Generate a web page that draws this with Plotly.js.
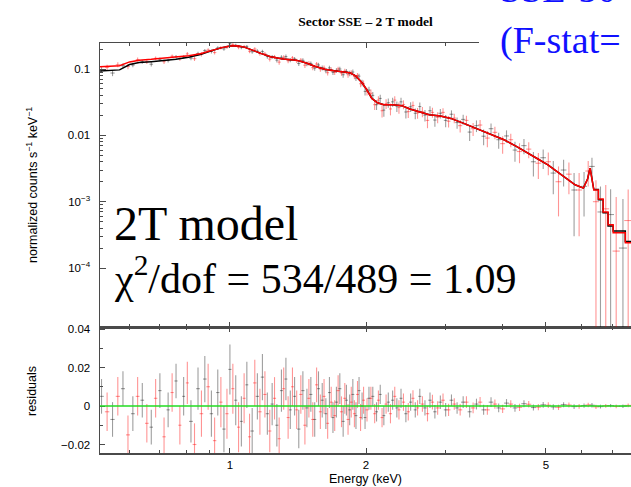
<!DOCTYPE html>
<html><head><meta charset="utf-8">
<script src="https://cdn.plot.ly/plotly-3.0.1.min.js"></script>
<style>html,body{margin:0;padding:0;background:#fff;}#chart{width:631px;height:487px;}</style>
</head><body><div id="chart"></div>
<script>
// ---------- data: black spectrum ----------
const blackE = [0.52,0.55,0.58,0.61,0.64,0.67,0.70,0.73,0.76,0.79,0.82,0.85,0.88,0.91,0.94,0.97,1.00,1.03,1.06,1.09,1.12,1.15,1.18,1.21,1.24,1.27,1.30,1.33,1.36,1.39,1.42,1.45,1.48,1.51,1.54,1.57,1.60,1.63,1.66,1.69,1.72,1.75,1.78,1.81,1.84,1.87,1.90,1.93,1.96,1.99,
2.03,2.07,2.11,2.15,2.19,2.24,2.29,2.34,2.39,2.45,2.51,2.57,2.63,2.70,2.77,2.84,2.92,3.00,3.09,3.18,3.28,3.39,3.51,3.64,3.78,3.93,4.09,4.27,4.47,4.69,4.93,5.19,5.47,5.77,6.07,6.32,6.60,6.95,7.40];
const blackHalfWidth = [0.006,0.006,0.006,0.006,0.006,0.006,0.006,0.006,0.006,0.006,0.008,0.008,0.008,0.008,0.008,0.008,0.008,0.008,0.008,0.008,0.010,0.010,0.010,0.010,0.010,0.010,0.010,0.010,0.010,0.010,0.012,0.012,0.012,0.012,0.012,0.012,0.012,0.012,0.012,0.012,0.014,0.014,0.014,0.014,0.014,0.014,0.014,0.014,0.014,0.014,
0.016,0.016,0.016,0.016,0.016,0.018,0.018,0.018,0.018,0.02,0.02,0.02,0.02,0.024,0.024,0.024,0.028,0.028,0.03,0.03,0.035,0.035,0.04,0.04,0.045,0.045,0.05,0.05,0.06,0.06,0.07,0.07,0.08,0.08,0.09,0.09,0.10,0.12,0.15];
const blackData = [0.098,0.087,0.112,0.115,0.129,0.118,0.140,0.134,0.153,0.151,0.146,0.171,0.189,0.184,0.208,0.201,0.241,0.228,0.211,0.219,0.182,0.186,0.183,0.154,0.152,0.136,0.150,0.154,0.136,0.142,0.121,0.135,0.120,0.121,0.103,0.115,0.104,0.094,0.104,0.089,0.095,0.100,0.082,0.092,0.086,0.090,0.073,0.078,0.062,0.046,
0.048,0.040,0.029,0.036,0.024,0.031,0.032,0.0275,0.032,0.0225,0.027,0.0215,0.0272,0.0202,0.0235,0.017,0.0215,0.0168,0.0208,0.0156,0.0174,0.0112,0.0140,0.0097,0.0126,0.0086,0.0098,0.0060,0.0070,0.0040,0.0046,0.0027,0.0030,0.0015,0.0017,0.0034,0.0007,0.00064,0.00020];
const blackErr = [0.009,0.009,0.009,0.009,0.009,0.009,0.009,0.009,0.009,0.010,0.011,0.011,0.012,0.012,0.012,0.012,0.013,0.013,0.013,0.012,0.012,0.012,0.012,0.011,0.011,0.011,0.011,0.011,0.010,0.010,0.010,0.010,0.010,0.009,0.009,0.009,0.009,0.008,0.008,0.008,0.008,0.008,0.008,0.008,0.008,0.008,0.007,0.007,0.007,0.006,
0.006,0.005,0.005,0.005,0.005,0.005,0.005,0.005,0.005,0.0045,0.0045,0.004,0.004,0.004,0.004,0.0035,0.0035,0.0035,0.003,0.003,0.003,0.003,0.0028,0.0026,0.0025,0.0023,0.0021,0.002,0.0018,0.0016,0.0015,0.0014,0.0013,0.0012,0.0011,0.0012,0.0010,0.0009,0.0009];
const blackResid = [0.005,-0.007,0.009,-0.004,0.003,-0.011,0.008,-0.002,0.013,0.005,-0.008,0.009,0.014,-0.004,0.007,-0.012,0.019,0.003,-0.008,0.011,-0.013,0.005,0.015,-0.004,0.001,-0.010,0.008,0.014,-0.002,0.005,-0.012,0.008,-0.001,0.006,-0.007,0.009,0.003,-0.004,0.007,-0.006,0.002,0.009,-0.008,0.003,-0.002,0.006,-0.005,0.008,0.000,-0.006,
0.004,0.005,-0.003,0.006,-0.005,0.002,0.003,-0.001,0.004,-0.004,0.002,-0.002,0.005,-0.001,0.003,-0.003,0.002,-0.002,0.003,-0.001,0.002,-0.003,0.001,-0.002,0.002,-0.001,0.0015,-0.001,0.0012,-0.0008,0.0006,-0.0005,0.0007,-0.0003,0.0002,0.0004,-0.0003,0.0002,-0.0001];

// ---------- data: red spectrum ----------
const redE = [0.535,0.565,0.595,0.625,0.655,0.685,0.715,0.745,0.775,0.805,0.835,0.865,0.895,0.925,0.955,0.985,1.015,1.045,1.075,1.105,1.135,1.165,1.195,1.225,1.255,1.285,1.315,1.345,1.375,1.405,1.435,1.465,1.495,1.525,1.555,1.585,1.615,1.645,1.675,1.705,1.735,1.765,1.795,1.825,1.855,1.885,1.915,1.945,1.975,
2.01,2.05,2.09,2.13,2.17,2.215,2.265,2.315,2.365,2.42,2.48,2.54,2.60,2.665,2.735,2.805,2.88,2.96,3.045,3.135,3.23,3.335,3.45,3.575,3.71,3.855,4.01,4.18,4.37,4.58,4.81,5.06,5.33,5.62,5.92,6.20,6.45,6.78,7.15,7.60];
const redHalfWidth = [0.006,0.006,0.006,0.006,0.006,0.006,0.006,0.006,0.006,0.006,0.008,0.008,0.008,0.008,0.008,0.008,0.008,0.008,0.008,0.008,0.010,0.010,0.010,0.010,0.010,0.010,0.010,0.010,0.010,0.010,0.012,0.012,0.012,0.012,0.012,0.012,0.012,0.012,0.012,0.012,0.014,0.014,0.014,0.014,0.014,0.014,0.014,0.014,0.014,
0.016,0.016,0.016,0.016,0.016,0.018,0.018,0.018,0.018,0.02,0.02,0.02,0.02,0.024,0.024,0.024,0.028,0.028,0.03,0.03,0.035,0.035,0.04,0.04,0.045,0.045,0.05,0.05,0.06,0.06,0.07,0.07,0.08,0.08,0.09,0.09,0.10,0.12,0.13,0.15];
const redData = [0.106,0.116,0.109,0.139,0.129,0.145,0.129,0.156,0.143,0.169,0.143,0.167,0.193,0.177,0.209,0.214,0.233,0.211,0.218,0.185,0.200,0.171,0.169,0.141,0.152,0.127,0.150,0.133,0.147,0.133,0.136,0.114,0.122,0.105,0.119,0.100,0.104,0.088,0.098,0.089,0.100,0.087,0.093,0.082,0.088,0.077,0.080,0.060,0.060,
0.046,0.043,0.029,0.034,0.0235,0.030,0.025,0.034,0.0262,0.0292,0.0228,0.0282,0.0218,0.0227,0.0168,0.0222,0.0187,0.0222,0.0163,0.0182,0.0140,0.0168,0.0126,0.0143,0.0091,0.0111,0.0075,0.0086,0.0057,0.0062,0.0038,0.0040,0.0020,0.0026,0.0015,0.0029,0.0010,0.00078,0.00018,0.00052];
const redErr = [0.010,0.010,0.010,0.010,0.010,0.010,0.010,0.010,0.010,0.011,0.011,0.012,0.012,0.012,0.013,0.013,0.013,0.013,0.013,0.012,0.012,0.012,0.012,0.011,0.011,0.011,0.011,0.011,0.010,0.010,0.010,0.010,0.010,0.009,0.009,0.009,0.009,0.008,0.008,0.008,0.008,0.008,0.008,0.008,0.008,0.007,0.007,0.007,0.007,
0.006,0.006,0.005,0.005,0.005,0.005,0.005,0.005,0.005,0.0045,0.0045,0.0042,0.004,0.004,0.004,0.0038,0.0035,0.0035,0.0032,0.003,0.003,0.003,0.0028,0.0027,0.0025,0.0024,0.0022,0.002,0.0019,0.0017,0.0016,0.0015,0.0014,0.0013,0.0012,0.0012,0.0011,0.0010,0.0010,0.0010];
const redResid = [-0.003,0.005,-0.015,0.005,-0.009,0.004,-0.016,0.007,-0.010,0.012,-0.020,-0.004,0.010,-0.018,0.002,-0.004,0.009,-0.011,0.004,-0.016,0.012,-0.003,0.006,-0.013,0.004,-0.017,0.009,-0.006,0.010,-0.002,0.006,-0.010,0.004,-0.007,0.011,-0.003,0.005,-0.009,0.002,-0.005,0.008,-0.003,0.004,-0.007,0.002,-0.004,0.006,-0.006,0.003,
-0.002,0.004,-0.004,0.003,-0.006,0.001,-0.004,0.005,-0.002,0.002,-0.003,0.004,-0.001,0.001,-0.004,0.002,-0.001,0.003,-0.002,0.001,-0.002,0.002,-0.001,0.002,-0.002,0.001,-0.0015,0.001,-0.0007,0.0009,-0.0006,0.0004,-0.0007,0.0005,-0.0002,0.0005,-0.0004,0.0001,-0.0002,0.0003];

// ---------- folded models ----------
const modelE = [0.515,0.54,0.57,0.60,0.63,0.67,0.71,0.76,0.81,0.86,0.91,0.96,1.00,1.04,1.08,1.12,1.17,1.23,1.31,1.40,1.47,1.54,1.62,1.70,1.78,1.84,1.90,1.96,2.01,2.06,2.12,2.19,2.29,2.40,2.50,2.62,2.76,2.92,3.08,3.30,3.55,3.80,4.05,4.30,4.55,4.80,5.05,5.30,5.55,5.80,
6.05,6.18,6.26,6.33,6.38,6.53,6.53,6.69,6.69,6.86,6.86,7.04,7.04,7.49,7.49,7.75];
const modelBlack = [0.093,0.094,0.097,0.117,0.125,0.129,0.133,0.140,0.150,0.165,0.188,0.210,0.222,0.224,0.212,0.195,0.172,0.153,0.141,0.136,0.124,0.110,0.099,0.094,0.090,0.088,0.078,0.062,0.048,0.036,0.031,0.029,0.029,0.028,0.025,0.0225,0.0205,0.0195,0.0180,0.0150,0.0122,0.0100,0.0085,0.0068,0.0055,0.0044,0.0036,0.0028,0.0022,0.0018,
0.0016,0.0022,0.0032,0.0020,0.00152,0.00152,0.00107,0.00107,0.00068,0.00068,0.00043,0.00043,0.00036,0.00036,0.00025,0.00025];
const modelRed = [0.108,0.109,0.112,0.128,0.136,0.140,0.145,0.150,0.158,0.170,0.190,0.210,0.222,0.224,0.212,0.195,0.172,0.153,0.141,0.136,0.124,0.110,0.099,0.094,0.090,0.088,0.078,0.062,0.048,0.036,0.031,0.029,0.029,0.028,0.025,0.0225,0.0205,0.0195,0.0180,0.0150,0.0122,0.0100,0.0085,0.0068,0.0055,0.0044,0.0036,0.0028,0.0022,0.0018,
0.0016,0.0022,0.0032,0.0020,0.00150,0.00150,0.00110,0.00110,0.00070,0.00070,0.00045,0.00045,0.00034,0.00034,0.00024,0.00024];

// ---------- tick labels ----------
const xTickVals = [1, 2, 5];
const xTickText = ['1', '2', '5'];
const xMinorVals = [0.6, 0.7, 0.8, 0.9, 3, 4, 6, 7];
const specTickVals = [0.1, 0.01, 0.001, 0.0001];
const specTickText = ['0.1', '0.01', '10<sup>−3</sup>', '10<sup>−4</sup>'];
const specMinorVals = [0.2,0.0002,0.0003,0.0004,0.0005,0.0006,0.0007,0.0008,0.0009,0.002,0.003,0.004,0.005,0.006,0.007,0.008,0.009,0.02,0.03,0.04,0.05,0.06,0.07,0.08,0.09];
const residTickVals = [-0.02, 0, 0.02, 0.04];
const residTickText = ['−0.02', '0', '0.02', '0.04'];
const residMinorVals = [-0.01, 0.01, 0.03];

// ---------- layout helpers (pixel -> paper) ----------
const W = 631, H = 487, ML = 100, MR = 0, MT = 43, MB = 34;
const PW = W - ML - MR, PH = H - MT - MB;
const px = p => (p - ML) / PW;
const py = p => 1 - (p - MT) / PH;
const split = py(327);

const AX = '#4a4a4a';
const tickFont = {family: 'Liberation Sans, Arial, sans-serif', size: 11.5, color: '#000'};
const titleFont = {family: 'Liberation Sans, Arial, sans-serif', size: 12.5, color: '#000'};
const serif = 'Liberation Serif, Times New Roman, serif';
const blackBar = 'rgba(0,0,0,0.38)';
const redBar = 'rgba(255,0,0,0.42)';

function dataTrace(x, y, ex, ey, color, xa, ya) {
  return {
    x: x, y: y, xaxis: xa, yaxis: ya, type: 'scatter', mode: 'markers',
    marker: {size: 0.1, color: color, opacity: 0},
    error_x: {type: 'data', array: ex, symmetric: true, color: color, thickness: 1.1, width: 0},
    error_y: {type: 'data', array: ey, symmetric: true, color: color, thickness: 1.1, width: 0},
    hoverinfo: 'skip', showlegend: false, cliponaxis: true
  };
}

const traces = [
  dataTrace(blackE, blackData, blackHalfWidth, blackErr, blackBar, 'x2', 'y2'),
  dataTrace(redE, redData, redHalfWidth, redErr, redBar, 'x2', 'y2'),
  {x: modelE, y: modelBlack, xaxis: 'x2', yaxis: 'y2', type: 'scatter', mode: 'lines',
   line: {color: '#000', width: 1.5, shape: 'linear'}, showlegend: false, hoverinfo: 'skip'},
  {x: modelE, y: modelRed, xaxis: 'x2', yaxis: 'y2', type: 'scatter', mode: 'lines',
   line: {color: '#ff0000', width: 1.5, shape: 'linear'}, showlegend: false, hoverinfo: 'skip'},
  dataTrace(blackE, blackResid, blackHalfWidth, blackErr, blackBar, 'x', 'y'),
  dataTrace(redE, redResid, redHalfWidth, redErr, redBar, 'x', 'y')
];

const xRange = [Math.log10(0.516), Math.log10(7.71)];
const xCommon = {
  type: 'log', range: xRange, showgrid: false, zeroline: false,
  showline: true, linecolor: AX, linewidth: 1.5,
  ticks: 'inside', ticklen: 5, tickwidth: 1, tickcolor: AX,
  tickmode: 'array', tickvals: xTickVals, ticktext: xTickText,
  minor: {tickmode: 'array', tickvals: xMinorVals, ticks: 'inside', ticklen: 3, tickcolor: AX, showgrid: false},
  tickfont: tickFont
};

const layout = {
  width: W, height: H,
  margin: {l: ML, r: MR, t: MT, b: MB, pad: 0},
  paper_bgcolor: '#fff', plot_bgcolor: '#fff',
  showlegend: false,
  title: {text: '<b>Sector SSE – 2 T model</b>', font: {family: serif, size: 13.5, color: '#000'},
          x: 0.5, xref: 'paper', xanchor: 'center', y: 1 - 21.5 / H, yref: 'container', yanchor: 'middle'},
  xaxis: Object.assign({}, xCommon, {anchor: 'y', domain: [0, 1], mirror: 'ticks', ticklabelstandoff: 1,
          title: {text: 'Energy (keV)', font: titleFont, standoff: 4}}),
  xaxis2: Object.assign({}, xCommon, {anchor: 'y2', domain: [0, 1], matches: 'x', mirror: 'allticks', showticklabels: false}),
  yaxis: {anchor: 'x', domain: [0, split], range: [-0.02442, 0.04104], showgrid: false, zeroline: false,
          showline: true, linecolor: AX, linewidth: 1.5,
          ticks: 'inside', ticklen: 5, tickwidth: 1, tickcolor: AX,
          tickmode: 'array', tickvals: residTickVals, ticktext: residTickText, tickfont: tickFont,
          ticklabelstandoff: 6,
          minor: {tickmode: 'array', tickvals: residMinorVals, ticks: 'inside', ticklen: 3, tickcolor: AX, showgrid: false}},
  yaxis2: {anchor: 'x2', domain: [split, 1], type: 'log', range: [-4.889, -0.608], showgrid: false, zeroline: false,
          showline: true, linecolor: AX, linewidth: 1.5,
          ticks: 'inside', ticklen: 6, tickwidth: 1, tickcolor: AX,
          tickmode: 'array', tickvals: specTickVals, ticktext: specTickText, tickfont: tickFont,
          ticklabelstandoff: 6,
          minor: {tickmode: 'array', tickvals: specMinorVals, ticks: 'inside', ticklen: 3, tickcolor: AX, showgrid: false}},
  shapes: [
    {type: 'line', xref: 'paper', yref: 'y', x0: 0, x1: 1, y0: 0, y1: 0,
     line: {color: '#22dd22', width: 1.5}, layer: 'above'},
    {type: 'rect', xref: 'paper', yref: 'paper', x0: px(479), x1: 1.02, y0: py(62), y1: 1.3,
     fillcolor: '#fff', line: {width: 0}, layer: 'above'}
  ],
  annotations: [
    {text: 'normalized counts s<sup>−1</sup> keV<sup>−1</sup>', textangle: -90, xref: 'paper', yref: 'paper',
     x: px(32), y: py(185), xanchor: 'center', yanchor: 'middle', showarrow: false, font: titleFont},
    {text: 'residuals', textangle: -90, xref: 'paper', yref: 'paper',
     x: px(32), y: py(391), xanchor: 'center', yanchor: 'middle', showarrow: false, font: titleFont},
    {text: '2T model', xref: 'paper', yref: 'paper', x: px(112), y: py(224), xanchor: 'left', yanchor: 'middle',
     showarrow: false, font: {family: serif, size: 48, color: '#000'}},
    {text: 'χ<sup>2</sup>/dof = 534/489 = 1.09', xref: 'paper', yref: 'paper', x: px(112), y: py(275), xanchor: 'left', yanchor: 'middle',
     showarrow: false, font: {family: serif, size: 42, color: '#000'}},
    {text: '(F-stat=', xref: 'paper', yref: 'paper', x: px(498), y: py(40), xanchor: 'left', yanchor: 'middle',
     showarrow: false, font: {family: serif, size: 38, color: '#1010ff'}},
    {text: 'SSE-50', xref: 'paper', yref: 'paper', x: px(498), y: py(-11.5), xanchor: 'left', yanchor: 'middle',
     showarrow: false, font: {family: serif, size: 38, color: '#1010ff'}}
  ]
};

Plotly.newPlot('chart', traces, layout, {staticPlot: true, displayModeBar: false});
</script>
</body></html>
